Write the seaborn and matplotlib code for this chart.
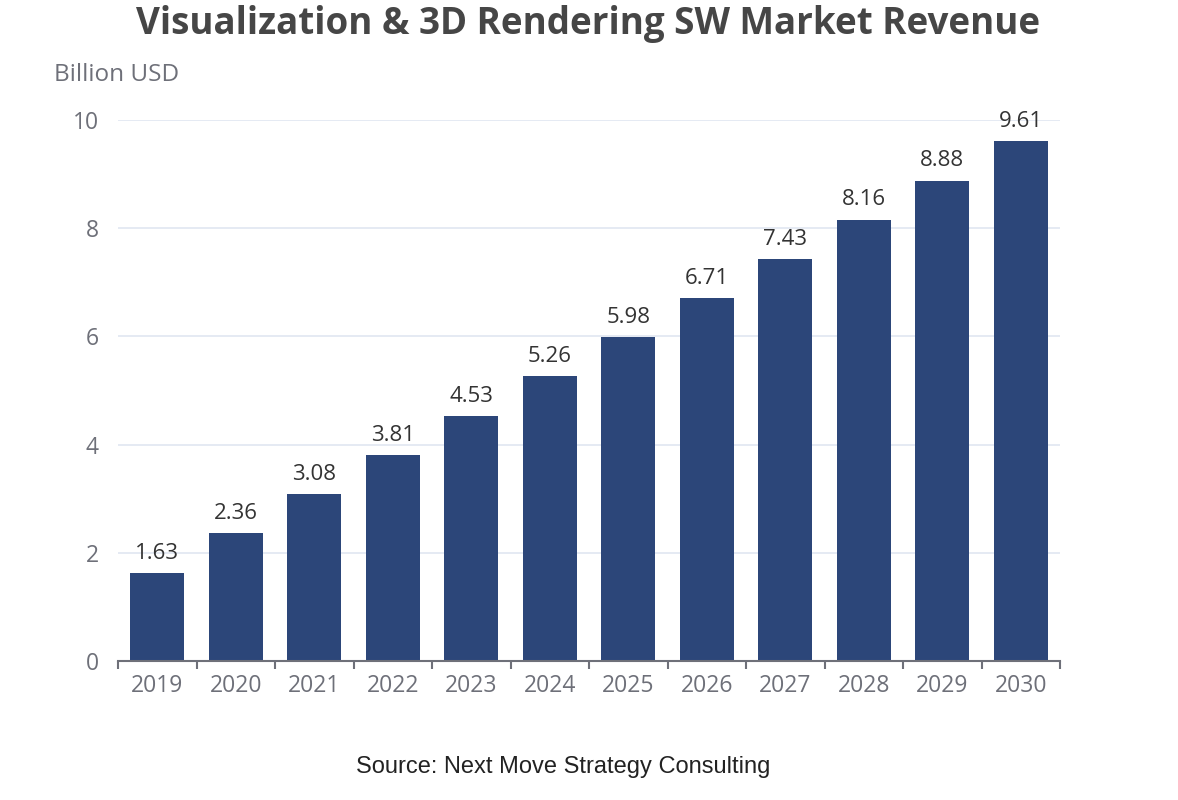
import matplotlib
matplotlib.use("Agg")
import matplotlib.pyplot as plt
import seaborn as sns
import pandas as pd

years = ["2019", "2020", "2021", "2022", "2023", "2024",
         "2025", "2026", "2027", "2028", "2029", "2030"]
revenue = [1.63, 2.36, 3.08, 3.81, 4.53, 5.26, 5.98, 6.71, 7.43, 8.16, 8.88, 9.61]

title = "Visualization & 3D Rendering SW Market Revenue"
y_label = "Billion USD"
source = "Source: Next Move Strategy Consulting"

sns.set_theme(style="white")
plt.rcParams["font.family"] = ["Open Sans", "DejaVu Sans"]

df = pd.DataFrame({"year": years, "revenue": revenue})

fig = plt.figure(figsize=(11.78, 8), dpi=100)
ax = fig.add_axes([118 / 1178, 1 - 661 / 800, (1060 - 118) / 1178, (661 - 120) / 800])

sns.barplot(data=df, x="year", y="revenue", color="#2c4679", saturation=1,
            width=0.69, linewidth=0, ax=ax)

ax.set_xlim(-0.5, len(years) - 0.5)
ax.set_ylim(0, 10)
ax.set_yticks([0, 2, 4, 6, 8, 10])
ax.yaxis.grid(True, color="#e0e6f1", linewidth=1.2)
ax.set_axisbelow(True)
for s in ["top", "right", "left"]:
    ax.spines[s].set_visible(False)
ax.spines["bottom"].set_color("#6e7079")
ax.spines["bottom"].set_linewidth(1.5)

# ticks sit between categories
ax.set_xticks(range(len(years)))
ax.set_xticklabels(years)
ax.tick_params(axis="x", which="major", length=0, colors="#6e7079", labelsize=16.5, pad=9)
ax.set_xticks([i - 0.5 for i in range(len(years) + 1)], minor=True)
ax.tick_params(axis="x", which="minor", bottom=True, length=6, width=1.5, color="#6e7079")
ax.tick_params(axis="y", length=0, colors="#6e7079", labelsize=16.5, pad=14)

ax.set_xlabel("")
ax.set_ylabel("")

for i, v in enumerate(revenue):
    ax.text(i, v + 0.17, f"{v:.2f}", ha="center", va="bottom",
            fontsize=16, color="#333333")

fig.text(588 / 1178, 1 - 24 / 800, title, ha="center", va="center",
         fontsize=26.5, fontweight="bold", color="#464646")
fig.text(54 / 1178, 1 - 75 / 800, y_label, ha="left", va="center",
         fontsize=17.5, color="#6e7079")
fig.text(563 / 1178, 1 - 767 / 800, source, ha="center", va="center",
         fontsize=17, color="#222222", family=["Liberation Sans", "DejaVu Sans"])

fig.savefig("out.png", dpi=100)
